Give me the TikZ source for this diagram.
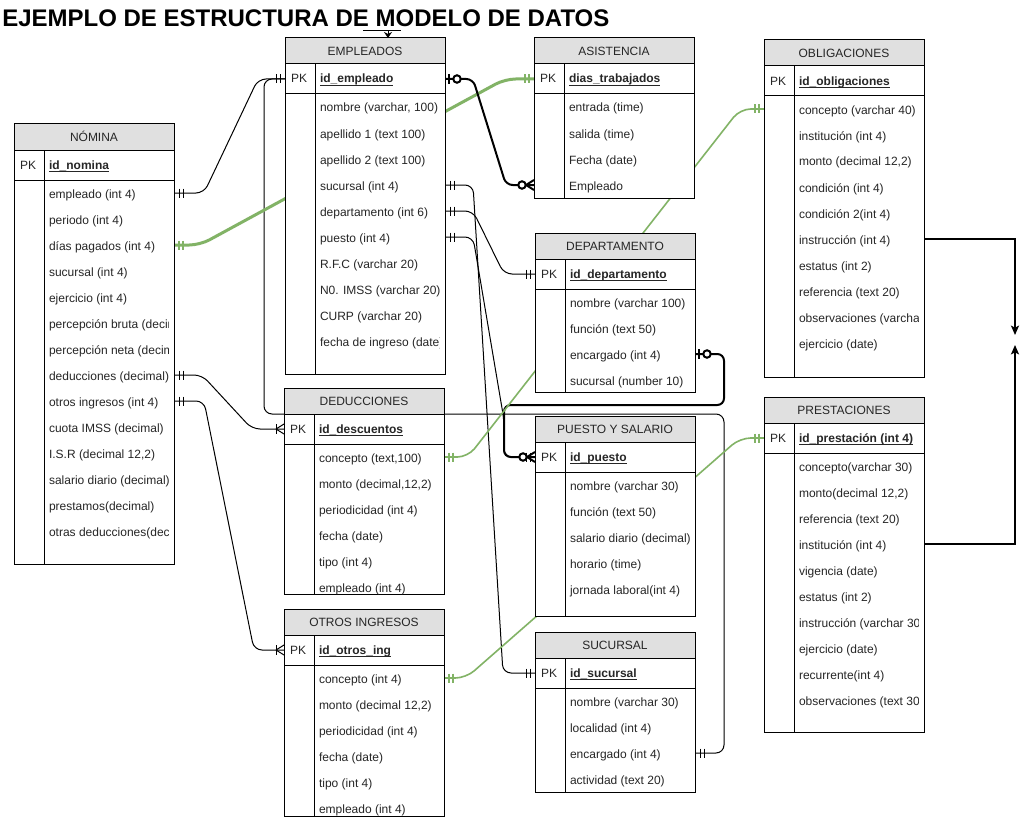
\documentclass[tikz,border=0pt]{standalone}
\usepackage{fontspec}
\setmainfont{Liberation Sans}
\usetikzlibrary{calc,arrows.meta}
\definecolor{hdrgray}{RGB}{224,224,224}
\definecolor{ergreen}{RGB}{130,179,102}
\definecolor{txtc}{RGB}{38,38,38}
\pgfdeclarelayer{bglines}
\pgfsetlayers{bglines,main}
\tikzset{
  tbltext/.style={inner sep=0pt, outer sep=0pt, text=txtc, font=\fontsize{9}{11}\selectfont},
  thinc/.style={draw=black, line width=0.75pt, rounded corners=6pt},
  thickc/.style={draw=black, line width=1.5pt, rounded corners=5pt},
  greenthick/.style={draw=ergreen, line width=2.25pt, rounded corners=8pt},
  greenthin/.style={draw=ergreen, line width=1.2pt, rounded corners=8pt},
  elbowc/.style={draw=black, line width=1.2pt, -{Stealth[length=7pt,width=6pt,inset=1.5pt]}},
  mthin/.style={draw=black, line width=0.75pt},
  mthick/.style={draw=black, line width=1.5pt},
  mgthick/.style={draw=ergreen, line width=2pt},
  mgthin/.style={draw=ergreen, line width=1.2pt}
}
% markers: #1 style, #2 coordinate, #3 direction (+1 right, -1 left)
\newcommand\mkbars[3]{%
  \draw[#1] ($(#2)+({#3*5},-4.5)$) -- ++(0,9);
  \draw[#1] ($(#2)+({#3*9},-4.5)$) -- ++(0,9);}
\newcommand\mkzeroone[3]{%
  \draw[#1] ($(#2)+({#3*4},-5)$) -- ++(0,10);
  \draw[#1,fill=white] ($(#2)+({#3*12},0)$) circle[radius=2.8pt];}
\newcommand\mkzeromany[3]{%
  \draw[#1] ($(#2)+({#3*8},0)$) -- ($(#2)+(0,-5)$);
  \draw[#1] ($(#2)+({#3*8},0)$) -- ($(#2)+(0,5)$);
  \draw[#1,fill=white] ($(#2)+({#3*12},0)$) circle[radius=2.8pt];}
\newcommand\mkonemany[3]{%
  \draw[#1] ($(#2)+({#3*8},0)$) -- ($(#2)+(0,-5)$);
  \draw[#1] ($(#2)+({#3*8},0)$) -- ($(#2)+(0,5)$);
  \draw[#1] ($(#2)+({#3*8},-5)$) -- ++(0,10);}
% table: #1 name, #2 x, #3 y, #4 title, #5 pk, #6 rows, #7 height
\newcommand\ertable[7]{%
  \fill[white] (#2,#3) rectangle ({#2+160},{#3+#7});
  \node[draw=black, fill=hdrgray, line width=0.75pt, minimum width=120pt, minimum height=19.5pt,
        inner sep=0pt, outer sep=0pt, anchor=north west, text=txtc, text height=6.6pt, text depth=0pt,
        font=\fontsize{9}{11}\selectfont] (#1) at (#2,#3) {#4};
  \draw[line width=0.75pt] (#2,#3) rectangle ({#2+160},{#3+#7});
  \draw[line width=0.75pt] (#2,{#3+56}) -- ({#2+160},{#3+56});
  \draw[line width=0.75pt] ({#2+30},{#3+26}) -- ({#2+30},{#3+#7});
  \node[tbltext, anchor=base west] (#1-pkl) at ({#2+6},{#3+45}) {PK};
  \node[tbltext, anchor=base west, font=\fontsize{9}{11}\selectfont\bfseries] (#1-pk) at ({#2+35},{#3+45}) {#5};
  \draw[txtc, line width=0.6pt] ($(#1-pk.base west)+(0,2)$) -- ($(#1-pk.base east)+(0,2)$);
  \coordinate (#1-pk-w) at (#2,{#3+41});
  \coordinate (#1-pk-e) at ({#2+160},{#3+41});
  \begin{scope}
    \clip ({#2+30},{#3+56}) rectangle ({#2+154},{#3+#7});
    \foreach \rw [count=\i] in {#6} {
      \node[tbltext, anchor=base west] (#1-\i) at ({#2+35},{#3+74+26*(\i-1)}) {\rw};
      \coordinate (#1-\i-w) at (#2,{#3+69+26*(\i-1)});
      \coordinate (#1-\i-e) at ({#2+160},{#3+69+26*(\i-1)});
    }
  \end{scope}
}
\begin{document}
\begin{tikzpicture}[x=0.75pt,y=-0.75pt]
\useasboundingbox (0,0) rectangle (1025,817);
\begin{pgfonlayer}{bglines}
  \fill[white] (0,0) rectangle (1025,817);
\end{pgfonlayer}

\node[anchor=base west, inner sep=0pt, font=\fontsize{18}{20}\selectfont\bfseries] (title) at (2,27) {EJEMPLO DE ESTRUCTURA DE MODELO DE DATOS};

\ertable{emp}{285}{38}{EMPLEADOS}{id\_empleado}{{nombre (varchar, 100)},apellido 1 (text 100),apellido 2 (text 100),sucursal (int 4),departamento (int 6),puesto (int 4),R.F.C (varchar 20),N0. IMSS (varchar 20),CURP (varchar 20),fecha de ingreso (date)}{336}
\ertable{nom}{14}{124}{NÓMINA}{id\_nomina}{empleado (int 4),periodo (int 4),días pagados (int 4),sucursal (int 4),ejercicio (int 4),percepción bruta (decimal),percepción neta (decimal),deducciones (decimal),otros ingresos (int 4),cuota IMSS (decimal),{I.S.R (decimal 12,2)},salario diario (decimal),prestamos(decimal),otras deducciones(decimal)}{440}
\ertable{asi}{534}{38}{ASISTENCIA}{dias\_trabajados}{entrada (time),salida (time),Fecha (date),Empleado}{160}
\ertable{obl}{764}{40}{OBLIGACIONES}{id\_obligaciones}{concepto (varchar 40),institución (int 4),{monto (decimal 12,2)},condición (int 4),condición 2(int 4),instrucción (int 4),estatus (int 2),referencia (text 20),observaciones (varchar 100),ejercicio (date)}{337}
\ertable{dep}{535}{233}{DEPARTAMENTO}{id\_departamento}{nombre (varchar 100),función (text 50),encargado (int 4),sucursal (number 10)}{159}
\ertable{pue}{535}{416}{PUESTO Y SALARIO}{id\_puesto}{nombre (varchar 30),función (text 50),salario diario (decimal),horario (time),jornada laboral(int 4)}{200}
\ertable{suc}{535}{632}{SUCURSAL}{id\_sucursal}{nombre (varchar 30),localidad (int 4),encargado (int 4),actividad (text 20)}{160}
\ertable{ded}{284}{388}{DEDUCCIONES}{id\_descuentos}{{concepto (text,100)},{monto (decimal,12,2)},periodicidad (int 4),fecha (date),tipo (int 4),empleado (int 4)}{206}
\ertable{otr}{284}{609}{OTROS INGRESOS}{id\_otros\_ing}{concepto (int 4),{monto (decimal 12,2)},periodicidad (int 4),fecha (date),tipo (int 4),empleado (int 4)}{207}
\ertable{pre}{764}{397}{PRESTACIONES}{id\_prestación (int 4)}{concepto(varchar 30),{monto(decimal 12,2)},referencia (text 20),institución (int 4),vigencia (date),estatus (int 2),instrucción (varchar 30),ejercicio (date),recurrente(int 4),observaciones (text 30)}{335}

\begin{pgfonlayer}{bglines}
  % NOMINA empleado -> EMPLEADOS pk
  \draw[thinc] (nom-1-e) -- ++(30,0) -- (258,79) -- (emp-pk-w);
  \mkbars{mthin}{nom-1-e}{1}
  \mkbars{mthin}{emp-pk-w}{-1}
  % EMPLEADOS pk -> SUCURSAL encargado
  \draw[thinc] (emp-pk-w) -- (264,79) -- (264,414) -- (724,414) -- (724,753) -- (suc-3-e);
  \mkbars{mthin}{suc-3-e}{1}
  % NOMINA dias pagados -> ASISTENCIA pk
  \draw[greenthick] (nom-3-e) -- ++(26,0) -- (505,79) -- (asi-pk-w);
  \mkbars{mgthick}{nom-3-e}{1}
  \mkbars{mgthick}{asi-pk-w}{-1}
  % EMPLEADOS pk -> ASISTENCIA Empleado
  \draw[thickc] (emp-pk-e) -- ++(28,0) -- (506,185) -- (asi-4-w);
  \mkzeroone{mthick}{emp-pk-e}{1}
  \mkzeromany{mthick}{asi-4-w}{-1}
  % EMPLEADOS sucursal -> SUCURSAL pk
  \draw[thinc] (emp-4-e) -- ++(28,0) -- (503,673) -- (suc-pk-w);
  \mkbars{mthin}{emp-4-e}{1}
  \mkbars{mthin}{suc-pk-w}{-1}
  % EMPLEADOS departamento -> DEPARTAMENTO pk
  \draw[thinc] (emp-5-e) -- ++(28,0) -- (504,274) -- (dep-pk-w);
  \mkbars{mthin}{emp-5-e}{1}
  \mkbars{mthin}{dep-pk-w}{-1}
  % EMPLEADOS puesto -> PUESTO pk
  \draw[thinc] (emp-6-e) -- ++(28,0) -- (504,420) -- (504,457) -- (pue-pk-w);
  \mkbars{mthin}{emp-6-e}{1}
  % DEPARTAMENTO encargado -> PUESTO pk
  \draw[thickc] (dep-3-e) -- (724,354) -- (724,405) -- (504,405) -- (504,457) -- (pue-pk-w);
  \mkzeroone{mthick}{dep-3-e}{1}
  \mkzeromany{mthick}{pue-pk-w}{-1}
  \mkbars{mthin}{pue-pk-w}{-1}
  % NOMINA deducciones -> DEDUCCIONES pk
  \draw[thinc] (nom-8-e) -- ++(28,0) -- (252,429) -- (ded-pk-w);
  \mkbars{mthin}{nom-8-e}{1}
  \mkonemany{mthin}{ded-pk-w}{-1}
  % NOMINA otros ingresos -> OTROS INGRESOS pk
  \draw[thinc] (nom-9-e) -- ++(30,0) -- (254,650) -- (otr-pk-w);
  \mkbars{mthin}{nom-9-e}{1}
  \mkonemany{mthin}{otr-pk-w}{-1}
  % DEDUCCIONES concepto -> OBLIGACIONES concepto
  \draw[greenthin] (ded-1-e) -- ++(24,0) -- (740,109) -- (obl-1-w);
  \mkbars{mgthin}{ded-1-e}{1}
  \mkbars{mgthin}{obl-1-w}{-1}
  % OTROS INGRESOS concepto -> PRESTACIONES pk
  \draw[greenthin] (otr-1-e) -- ++(22,0) -- (740,438) -- (pre-pk-w);
  \mkbars{mgthin}{otr-1-e}{1}
  \mkbars{mgthin}{pre-pk-w}{-1}
\end{pgfonlayer}

% elbow arrows on the right
\coordinate (tipA) at (1015,335);
\coordinate (tipB) at (1015,345);
\draw[elbowc] (obl-6-e) -- (1015,239) -- (tipA);
\draw[elbowc] (pre-4-e) -- (1015,544) -- (tipB);

% small arrow under the title
\coordinate (tl) at (363,31);
\coordinate (tr) at (401,31);
\coordinate (ta) at (388,31);
\draw[line width=0.75pt] (tl) -- (tr);
\draw[line width=0.75pt, -{Stealth[length=4.5pt,width=6pt]}] (ta) -- (ta |- emp.north);
\end{tikzpicture}
\end{document}
